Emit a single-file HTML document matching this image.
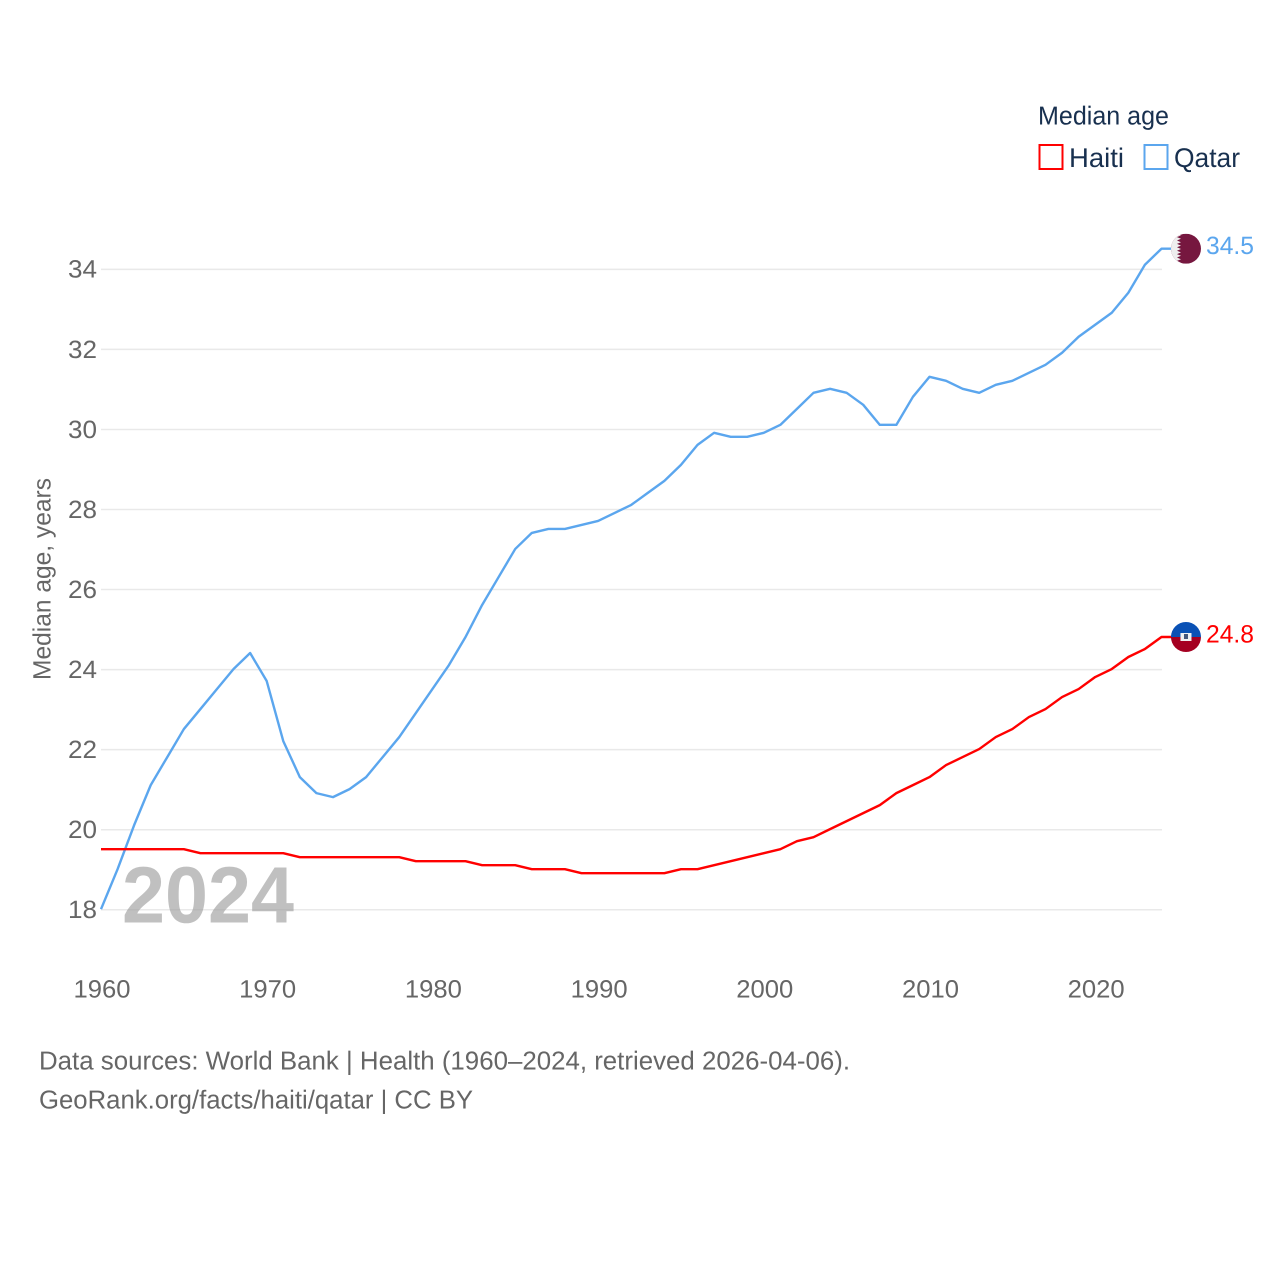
<!DOCTYPE html>
<html lang="en">
<head>
<meta charset="utf-8">
<title>Median age: Haiti and Qatar</title>
<style>
html,body{margin:0;padding:0;background:#fff;}
svg{display:block;font-family:"Liberation Sans",sans-serif;}
</style>
</head>
<body>
<svg id="chart" width="1280" height="1280" viewBox="0 0 1280 1280" xmlns="http://www.w3.org/2000/svg" text-rendering="geometricPrecision">
  <rect width="1280" height="1280" fill="#fff"/>
  <g id="grid"></g>
  <g id="yticks"></g>
  <g id="xticks"></g>
  <text transform="translate(50.500 579) rotate(-90)" text-anchor="middle" font-size="25" fill="#666" textLength="202" lengthAdjust="spacingAndGlyphs">Median age, years</text>
  <text x="122" y="922.500" font-size="80" font-weight="700" fill="#999" fill-opacity="0.62" textLength="172" lengthAdjust="spacingAndGlyphs">2024</text>
  <g id="series"></g>

  <defs>
    <clipPath id="flag-clip"><circle cx="0" cy="0" r="15"/></clipPath>
  </defs>
  <g id="flag-qatar" clip-path="url(#flag-clip)">
    <rect x="-15" y="-15" width="30" height="30" fill="#76173f"/>
    <path d="M-15-15H-9L-5-13.300-9-11.600-5-9.900-9-8.200-5-6.500-9-4.800-5-3.100-9-1.400-5 .3-9 2-5 3.700-9 5.400-5 7.100-9 8.800-5 10.500-9 12.200-5 13.900-9 15.600H-15Z" fill="#eee"/>
  </g>
  <g id="flag-haiti" clip-path="url(#flag-clip)">
    <rect x="-15" y="-15" width="30" height="15" fill="#0a51b5"/>
    <rect x="-15" y="0" width="30" height="15" fill="#a50021"/>
    <rect x="-5.500" y="-4" width="11" height="8" fill="#f0f0f0"/>
    <rect x="-2" y="-3" width="4" height="5" fill="#44567a"/>
  </g>

  <text x="1038" y="124.500" font-size="26" fill="#18304f" textLength="131" lengthAdjust="spacingAndGlyphs">Median age</text>
  <g>
    <rect x="1039.500" y="145" width="23" height="24" fill="#fff" stroke="#ff0000" stroke-width="2"/>
    <text x="1069" y="167" font-size="27" fill="#18304f" textLength="55" lengthAdjust="spacingAndGlyphs">Haiti</text>
  </g>
  <g>
    <rect x="1144.500" y="145" width="23" height="24" fill="#fff" stroke="#5ba6ee" stroke-width="2"/>
    <text x="1174" y="167" font-size="27" fill="#18304f" textLength="66" lengthAdjust="spacingAndGlyphs">Qatar</text>
  </g>

  <text x="39" y="1069.500" font-size="26" fill="#666" textLength="811" lengthAdjust="spacingAndGlyphs">Data sources: World Bank | Health (1960–2024, retrieved 2026-04-06).</text>
  <text x="39" y="1108.500" font-size="26" fill="#666" textLength="434" lengthAdjust="spacingAndGlyphs">GeoRank.org/facts/haiti/qatar | CC BY</text>
</svg>
<script>
const startYear = 1960;
const yTickLabels = [18, 20, 22, 24, 26, 28, 30, 32, 34];
const xTickLabels = [1960, 1970, 1980, 1990, 2000, 2010, 2020];
const haitiValues = [
  19.5,19.5,19.5,19.5,19.5,19.5,19.4,19.4,19.4,19.4,
  19.4,19.4,19.3,19.3,19.3,19.3,19.3,19.3,19.3,19.2,
  19.2,19.2,19.2,19.1,19.1,19.1,19.0,19.0,19.0,18.9,
  18.9,18.9,18.9,18.9,18.9,19.0,19.0,19.1,19.2,19.3,
  19.4,19.5,19.7,19.8,20.0,20.2,20.4,20.6,20.9,21.1,
  21.3,21.6,21.8,22.0,22.3,22.5,22.8,23.0,23.3,23.5,
  23.8,24.0,24.3,24.5,24.8
];
const qatarValues = [
  18.0,19.0,20.1,21.1,21.8,22.5,23.0,23.5,24.0,24.4,
  23.7,22.2,21.3,20.9,20.8,21.0,21.3,21.8,22.3,22.9,
  23.5,24.1,24.8,25.6,26.3,27.0,27.4,27.5,27.5,27.6,
  27.7,27.9,28.1,28.4,28.7,29.1,29.6,29.9,29.8,29.8,
  29.9,30.1,30.5,30.9,31.0,30.9,30.6,30.1,30.1,30.8,
  31.3,31.2,31.0,30.9,31.1,31.2,31.4,31.6,31.9,32.3,
  32.6,32.9,33.4,34.1,34.5
];

const NS = 'http://www.w3.org/2000/svg';
const xScale = function (year) { return 101 + (year - 1960) * 16.57; };
const yScale = function (value) { return 909.2 - (value - 18) * 40.03; };
const plotRight = xScale(2024);
const stubEnd = plotRight + 10;
const flagX = plotRight + 24.500;

const gridGroup = document.getElementById('grid');
const yTickGroup = document.getElementById('yticks');
const xTickGroup = document.getElementById('xticks');
const seriesGroup = document.getElementById('series');
const svgRoot = document.getElementById('chart');

yTickLabels.forEach(function (tick) {
  const y = yScale(tick) + 0.6;
  const line = document.createElementNS(NS, 'line');
  
  
  line.setAttribute('x1', xScale(1960));
  line.setAttribute('x2', plotRight + 0.5);
  line.setAttribute('y1', y);
  line.setAttribute('y2', y);
  line.setAttribute('stroke', '#e9e9e9');
  line.setAttribute('stroke-width', '1.5');
  gridGroup.appendChild(line);

  const label = document.createElementNS(NS, 'text');
  
  
  label.setAttribute('x', 68);
  label.setAttribute('y', yScale(tick) + 9);
  label.setAttribute('font-size', '25');
  label.setAttribute('fill', '#666');
  label.setAttribute('textLength', '29');
  label.setAttribute('lengthAdjust', 'spacingAndGlyphs');
  label.textContent = String(tick);
  yTickGroup.appendChild(label);
});

xTickLabels.forEach(function (tick) {
  const label = document.createElementNS(NS, 'text');
  
  
  label.setAttribute('x', xScale(tick) - 27.5);
  label.setAttribute('y', 997.5);
  label.setAttribute('font-size', '25');
  label.setAttribute('fill', '#666');
  label.setAttribute('textLength', '57');
  label.setAttribute('lengthAdjust', 'spacingAndGlyphs');
  label.textContent = String(tick);
  xTickGroup.appendChild(label);
});

function drawLine(values, color) {
  let d = '';
  values.forEach(function (value, i) {
    d += (i === 0 ? 'M' : 'L') + xScale(startYear + i).toFixed(2) + ' ' + yScale(value).toFixed(2);
  });
  d += 'L' + stubEnd.toFixed(2) + ' ' + yScale(values[values.length - 1]).toFixed(2);
  const path = document.createElementNS(NS, 'path');
  
  
  path.setAttribute('d', d);
  path.setAttribute('fill', 'none');
  path.setAttribute('stroke', color);
  path.setAttribute('stroke-width', '2.4');
  path.setAttribute('stroke-linejoin', 'round');
  seriesGroup.appendChild(path);
}
drawLine(qatarValues, '#5ba6ee');
drawLine(haitiValues, '#ff0000');

function placeEnd(flagId, values, color) {
  const last = values[values.length - 1];
  const flag = document.getElementById(flagId);
  flag.setAttribute('transform', 'translate(' + flagX.toFixed(2) + ' ' + yScale(last).toFixed(2) + ')');
  const label = document.createElementNS(NS, 'text');
  
  
  label.setAttribute('x', 1206);
  label.setAttribute('y', yScale(last) + 5.5);
  label.setAttribute('font-size', '25');
  label.setAttribute('fill', color);
  label.setAttribute('textLength', '48');
  label.setAttribute('lengthAdjust', 'spacingAndGlyphs');
  label.textContent = last.toFixed(1);
  svgRoot.appendChild(label);
}
placeEnd('flag-qatar', qatarValues, '#5ba6ee');
placeEnd('flag-haiti', haitiValues, '#ff0000');
</script>
</body>
</html>
